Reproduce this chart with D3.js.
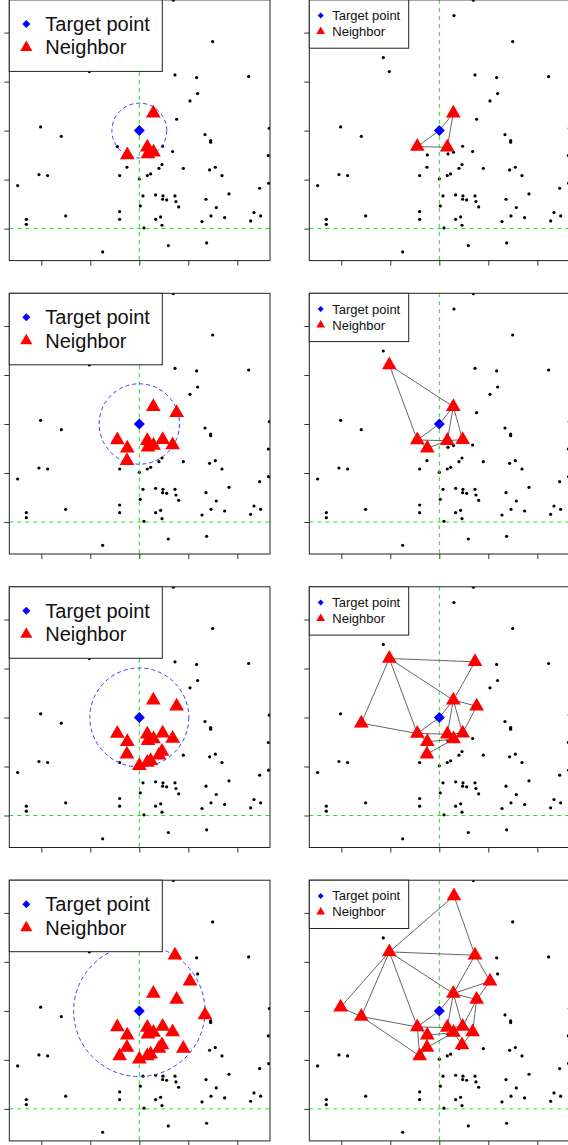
<!DOCTYPE html>
<html><head><meta charset="utf-8">
<script src="https://cdn.jsdelivr.net/npm/d3@7"></script>
<style>body{margin:0;background:#fff}svg{display:block}</style>
</head><body>
<script>
// ---- data (units = tick steps, target point at origin) ----
const target = [0, 0];
const cloud = [
 [0.286, 0.354], [-0.449, -0.327], [0.163, -0.340], [-0.245, -0.497], [0.476, -0.320],
 [0.290, -0.440], [0.177, -0.476], [0.299, 2.347], [-1.020, 1.204], [0.728, 1.136],
 [1.034, 0.605], [0.762, 0.231], [-2.014, 0.075], [-1.592, -0.116], [1.340, -0.082],
 [0.680, -0.429], [-0.252, -0.748], [-0.401, -0.918], [0.000, -0.986], [0.163, -0.918],
 [0.231, -0.884], [0.401, -0.769], [0.463, -0.694], [0.898, -0.769], [0.694, 2.660],
 [1.497, 1.816], [-1.143, 1.490], [1.170, 1.082], [2.231, 1.102], [1.190, 0.755],
 [1.456, -0.204], [1.456, -0.238], [1.435, -0.803], [1.551, -0.748], [1.687, -0.918],
 [2.456, -1.177], [-2.483, -1.122], [-2.048, -0.898], [-1.871, -0.918], [0.075, -1.333],
 [0.333, -1.313], [0.483, -1.333], [0.476, -1.401], [0.558, -1.415], [0.728, -1.333],
 [0.748, -1.449], [0.803, -1.558], [0.020, -1.537], [1.361, -1.401], [1.571, -1.571],
 [1.830, -1.293], [-0.401, -1.653], [-0.401, -1.810], [0.333, -1.810], [0.435, -1.762],
 [0.463, -1.932], [0.095, -1.986], [1.279, -1.857], [1.463, -1.741], [1.741, -1.776],
 [2.272, -1.844], [2.340, -1.673], [2.476, -1.741], [-2.306, -1.810], [-2.306, -1.912],
 [-1.503, -1.741], [0.592, -2.347], [1.374, -2.293], [-0.748, -2.476], [2.653, 0.048],
 [2.633, -0.510], [2.639, -1.075]
];
// left column: neighbours within a radius
const radii = [0.56, 0.82, 1.01, 1.34];
const leftNeighbors = [
 [0, 2, 3, 5, 6],
 [0, 1, 2, 3, 4, 5, 6, 11, 15, 16],
 [0, 1, 2, 3, 4, 5, 6, 11, 15, 16, 18, 19, 20, 21, 22],
 [0, 1, 2, 3, 4, 5, 6, 11, 15, 16, 18, 19, 20, 21, 22, 17, 9, 10, 14, 23]
];
// right column: graph neighbours and their links (-1 = target point)
const rightNeighbors = [
 [0, 1, 2],
 [0, 1, 2, 3, 4, 8],
 [0, 1, 2, 3, 4, 5, 8, 9, 11, 13, 16],
 [0, 1, 2, 3, 4, 5, 8, 9, 11, 13, 16, 7, 10, 12, 15, 22, 17]
];
const rightEdges = [
 [[-1,0],[-1,1],[0,2],[1,2]],
 [[-1,0],[-1,1],[8,0],[8,1],[0,2],[0,4],[1,2],[2,4],[1,3],[3,2]],
 [[-1,0],[-1,1],[8,9],[8,13],[8,1],[8,0],[9,0],[0,11],[11,4],[0,4],[0,2],[13,1],[1,2],[2,4],[1,3],[3,5],[3,16],[16,5]],
 [[-1,0],[-1,1],[8,9],[8,13],[8,1],[8,0],[9,0],[0,11],[11,4],[0,4],[0,2],[13,1],[1,2],[2,4],[1,3],[3,5],[3,16],[16,5],
  [7,8],[7,9],[8,12],[12,13],[9,10],[10,0],[10,11],[11,15],[4,15],[15,22],[22,5],[13,17],[17,1],[17,16]]
];
const ticks = [-2, -1, 0, 1, 2];
const refX = 0, refY = -2;
const legendLabels = ["Target point", "Neighbor"];

// ---- layout ----
const PW = 260.7, PH = 260.7;
const colX = [9.3, 309.3];
const rowY = [-0.1, 293.3, 586.8, 880.2];
const x = d3.scaleLinear().domain([-2.653, 2.667]).range([0, PW]);
const y = d3.scaleLinear().domain([-2.653, 2.667]).range([PH, 0]);

const svg = d3.select("body").append("svg").attr("width", 568).attr("height", 1145);
svg.append("defs").append("clipPath").attr("id", "clip")
  .append("rect").attr("width", PW).attr("height", PH);

function triPath(r) {
  const xc = r * Math.sqrt(3) / 2;
  return `M0,${-r}L${xc},${r/2}L${-xc},${r/2}Z`;
}
function diaPath(r) { return `M0,${-r}L${r},0L0,${r}L${-r},0Z`; }

const pt = i => (i < 0 ? target : cloud[i]);

for (let row = 0; row < 4; row++) {
  for (let col = 0; col < 2; col++) {
    const g = svg.append("g").attr("transform", `translate(${colX[col]},${rowY[row]})`);
    const p = g.append("g").attr("clip-path", "url(#clip)");

    p.selectAll("circle.pt").data(cloud).join("circle")
      .attr("cx", d => x(d[0])).attr("cy", d => y(d[1])).attr("r", 1.6).attr("fill", "#000");

    p.append("line").attr("x1", x(refX)).attr("x2", x(refX)).attr("y1", 0).attr("y2", PH)
      .attr("stroke", "#22dd22").attr("stroke-dasharray", "4,4");
    p.append("line").attr("x1", 0).attr("x2", PW).attr("y1", y(refY)).attr("y2", y(refY))
      .attr("stroke", "#22dd22").attr("stroke-dasharray", "4,4");

    let nb;
    if (col === 0) {
      nb = leftNeighbors[row];
      p.append("circle").attr("cx", x(target[0])).attr("cy", y(target[1]))
        .attr("r", x(radii[row]) - x(0)).attr("fill", "none")
        .attr("stroke", "#3a3aff").attr("stroke-dasharray", "4,3");
    } else {
      nb = rightNeighbors[row];
      p.selectAll("line.edge").data(rightEdges[row]).join("line")
        .attr("x1", d => x(pt(d[0])[0])).attr("y1", d => y(pt(d[0])[1]))
        .attr("x2", d => x(pt(d[1])[0])).attr("y2", d => y(pt(d[1])[1]))
        .attr("stroke", "#666").attr("stroke-width", 1);
    }
    p.selectAll("path.nb").data(nb).join("path")
      .attr("transform", i => `translate(${x(cloud[i][0])},${y(cloud[i][1])})`)
      .attr("d", triPath(8.5)).attr("fill", "#ff0000");
    p.append("path").attr("transform", `translate(${x(target[0])},${y(target[1])})`)
      .attr("d", diaPath(5.5)).attr("fill", "#0000ff");

    // axes (ticks only)
    const ay = g.append("g").call(d3.axisLeft(y).tickValues(ticks).tickSize(5).tickFormat(""));
    const ax = g.append("g").attr("transform", `translate(0,${PH})`)
      .call(d3.axisBottom(x).tickValues(ticks).tickSize(5).tickFormat(""));
    [ax, ay].forEach(a => { a.select(".domain").remove(); a.selectAll("line").attr("stroke", "#333"); });

    g.append("rect").attr("width", PW).attr("height", PH).attr("fill", "none")
      .attr("stroke", "#222").attr("stroke-width", 1);

    // legend
    const big = col === 0;
    const lw = big ? 153 : 99.4, lh = big ? 71.5 : 48.3;
    const fs = big ? 20 : 13;
    const lg = g.append("g");
    lg.append("rect").attr("x", 0).attr("y", 0).attr("width", lw).attr("height", lh)
      .attr("fill", "#fff").attr("stroke", "#222");
    const sx = big ? 17 : 11.4;
    const rowsY = big ? [24, 47.5] : [15.7, 31.7];
    const tx = big ? 36 : 23;
    lg.append("path").attr("transform", `translate(${sx},${rowsY[0]})`)
      .attr("d", diaPath(big ? 4 : 3)).attr("fill", "#0000ff");
    lg.append("path").attr("transform", `translate(${sx},${rowsY[1]})`)
      .attr("d", triPath(big ? 7 : 5)).attr("fill", "#ff0000");
    lg.selectAll("text").data(legendLabels).join("text")
      .attr("x", tx).attr("y", (d, i) => rowsY[i])
      .attr("dy", "0.35em")
      .attr("font-family", "Liberation Sans, Arial, sans-serif")
      .attr("font-size", fs).attr("fill", "#111").text(d => d);
  }
}
</script>
</body></html>
